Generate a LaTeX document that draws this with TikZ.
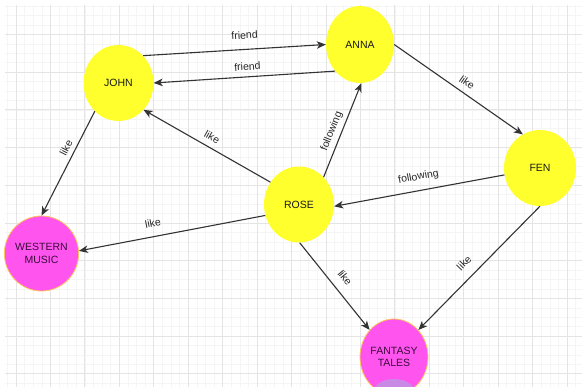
\documentclass[tikz,border=0pt]{standalone}
\usepackage{fontspec}
\setmainfont{Liberation Sans}
\usetikzlibrary{shapes.geometric,arrows.meta}
\definecolor{gridminor}{HTML}{F5F5F5}
\definecolor{gridmajor}{HTML}{E4E4E4}
\definecolor{nodeyellow}{HTML}{FFFF2E}
\definecolor{nodemag}{HTML}{FF55EE}
\definecolor{magborder}{HTML}{FFC45A}
\definecolor{edgecol}{HTML}{333333}
\definecolor{blobcol}{HTML}{C98AE6}
\definecolor{magtext}{HTML}{3A0A3C}
\begin{document}
\begin{tikzpicture}[x=1pt,y=-1pt,
  person/.style={ellipse, fill=nodeyellow, draw=none, minimum width=70pt, minimum height=76pt, inner sep=0pt, font=\fontsize{10.5}{12.5}\selectfont, text=black!90},
  thing/.style={ellipse, fill=nodemag, draw=magborder, line width=0.8pt, minimum width=69pt, minimum height=75pt, inner sep=0pt, font=\fontsize{10.5}{12.5}\selectfont, align=center, text=magtext},
  rel/.style={draw=edgecol, line width=1.1pt, -{Stealth[length=9pt,width=7.5pt,inset=2.5pt]}},
  lbl/.style={sloped, inner sep=1pt, font=\fontsize{10.5}{12}\selectfont, text=black!85}
]
\useasboundingbox (0,0) rectangle (582,387);
\clip (0,0) rectangle (582,387);
\fill[white] (0,0) rectangle (582,387);
% grid
\foreach \k in {-1,...,65} {
  \pgfmathsetmacro{\xx}{16+\k*8.61}
  \draw[gridminor, line width=0.6pt] (\xx,5) -- (\xx,387);
}
\foreach \k in {-3,...,37} {
  \pgfmathsetmacro{\yy}{34.5+\k*9.425}
  \draw[gridminor, line width=0.6pt] (5,\yy) -- (582,\yy);
}
\foreach \k in {0,...,16} {
  \pgfmathsetmacro{\xx}{16+\k*34.44}
  \draw[gridmajor, line width=0.8pt] (\xx,5) -- (\xx,387);
}
\foreach \k in {0,...,9} {
  \pgfmathsetmacro{\yy}{34.5+\k*37.7}
  \draw[gridmajor, line width=0.8pt] (5,\yy) -- (582,\yy);
}
% nodes
\node[person] (john) at (118.5,83) {JOHN};
\node[person, minimum width=68pt, minimum height=77pt] (anna) at (360,44.5) {ANNA};
\node[person, minimum width=72pt] (fen) at (540,168) {FEN};
\node[person] (rose) at (299,204.5) {ROSE};
\node[thing] (western) at (41.5,253.5) {WESTERN\\MUSIC};
\node[thing, minimum width=68pt, minimum height=76pt] (fantasy) at (394,357) {FANTASY\\TALES};
\begin{scope}
  \clip (394,357) ellipse (33.5pt and 37.5pt);
  \fill[blobcol] (394,393) ellipse (21pt and 14pt);
\end{scope}
% edges
\draw[rel] (john.48) -- node[lbl, pos=0.56, above=9pt] {friend} (anna.180);
\draw[rel] (anna.-133) -- node[lbl, pos=0.48, above=5pt] {friend} (john.0);
\draw[rel] (anna.0) -- node[lbl, pos=0.52, above=5pt] {like} (fen.117);
\draw[rel] (rose.48) -- node[lbl, pos=0.45, above=3pt] {following} (anna.-88);
\draw[rel] (rose.142) -- node[lbl, pos=0.5, above=5pt] {like} (john.-47);
\draw[rel] (john.-130) -- node[lbl, pos=0.39, above=3.5pt] {like} (western.90);
\draw[rel] (fen.191) -- node[lbl, pos=0.49, above=7pt] {following} (rose.-3);
\draw[rel] (rose.198) -- node[lbl, pos=0.59, above=8pt] {like} (western.4);
\draw[rel] (rose.-89) -- node[lbl, pos=0.5, above=8pt] {like} (fantasy.132);
\draw[rel] (fen.-90) -- node[lbl, pos=0.54, above=9pt] {like} (fantasy.48);
\end{tikzpicture}
\end{document}
